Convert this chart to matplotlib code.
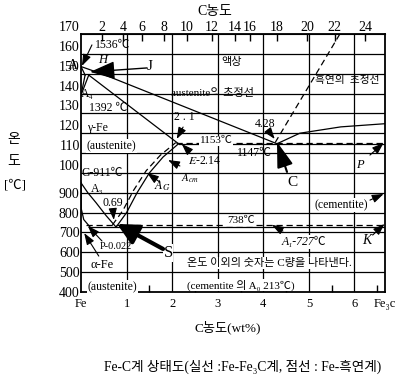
import matplotlib
matplotlib.use('Agg')
import matplotlib.pyplot as plt
from matplotlib import transforms

plt.rcParams['font.family'] = ['Liberation Serif', 'Noto Sans CJK KR', 'DejaVu Serif']
plt.rcParams['mathtext.fontset'] = 'stix'
plt.rcParams['axes.unicode_minus'] = False

# ---------------- data ----------------
y_ticks = [400, 500, 600, 700, 800, 900, 1000, 1100, 1200, 1300, 1400, 1500, 1600, 1700]
y_tick_labels = ['400', '500', '600', '700', '800', '900', '100', '110', '120',
                 '130', '140', '150', '160', '170']
x_ticks = [0, 1, 2, 3, 4, 5, 6, 6.67]
x_tick_labels = ['Fe', '1', '2', '3', '4', '5', '6', 'Fe₃c']
x_minor = [0.5, 1.5, 2.5, 3.5, 4.5, 5.5, 6.5]
top_tick_pos = [0.46, 0.92, 1.34, 1.82, 2.32, 2.87, 3.38, 3.71, 4.30, 4.96, 5.57, 6.23]
top_tick_labels = ['2', '4', '6', '8', '10', '12', '14', '16', '18', '20', '22', '24']

# phase boundaries (C wt%, temperature degC)
AB_c, AB_t = [0, 0.53], [1536, 1493]
BC_c, BC_t = [0.53, 4.3], [1493, 1147]
JE_c, JE_t = [0.17, 2.14], [1493, 1147]
AH_c, AH_t = [0, 0.09], [1536, 1493]
HN_c, HN_t = [0.09, 0], [1493, 1392]
JN_c, JN_t = [0.17, 0], [1493, 1392]
CD_c, CD_t = [4.3, 4.8, 5.7, 6.67], [1147, 1200, 1232, 1248]
ECF_c, ECF_t = [2.14, 6.67], [1147, 1147]
ES_c = [0.77, 1.0, 1.23, 1.5, 1.8, 2.14]
ES_t = [727, 800, 900, 1000, 1080, 1147]
ESg_c = [0.69, 0.92, 1.15, 1.43, 1.74, 2.08]
ESg_t = [738, 811, 911, 1011, 1089, 1153]
GS_c, GS_t = [0, 0.15, 0.33, 0.55, 0.77], [950, 900, 850, 785, 727]
GP_c, GP_t = [0, 0.005, 0.06, 0.2], [950, 820, 765, 727]
PSK_c, PSK_t = [0.2, 6.67], [727, 727]
PSKg_c, PSKg_t = [0.1, 6.67], [738, 738]
ECFg_c, ECFg_t = [2.08, 6.67], [1153, 1153]
CDg_c, CDg_t = [4.26, 5.68], [1153, 1700]

# ---------------- figure ----------------
fig = plt.figure(figsize=(4.04, 3.80), dpi=100)
ax = fig.add_axes([81 / 404, 1 - 292 / 380, 304 / 404, 258 / 380])
ax.set_xlim(0, 6.67)
ax.set_ylim(400, 1700)

for s in ax.spines.values():
    s.set_linewidth(1.3)

# grid
for xv in [1, 2, 3, 4, 5, 6]:
    ax.axvline(xv, color='black', lw=0.9, zorder=1)
for yv in y_ticks[1:-1]:
    ax.axhline(yv, color='black', lw=0.9, zorder=1)

lk = dict(color='black', lw=0.9, zorder=3)
dk = dict(color='black', lw=0.9, zorder=3, dashes=(5, 3))
for c, t in [(AB_c, AB_t), (BC_c, BC_t), (JE_c, JE_t), (AH_c, AH_t), (HN_c, HN_t),
             (JN_c, JN_t), (CD_c, CD_t), (ECF_c, ECF_t), (ES_c, ES_t), (GS_c, GS_t),
             (GP_c, GP_t), (PSK_c, PSK_t)]:
    ax.plot(c, t, **lk)
for c, t in [(ESg_c, ESg_t), (PSKg_c, PSKg_t), (ECFg_c, ECFg_t), (CDg_c, CDg_t)]:
    ax.plot(c, t, **dk)

# ticks
ax.set_yticks(y_ticks)
ax.set_yticklabels(y_tick_labels, fontsize=10)
ax.tick_params(axis='y', length=0, pad=1)
shift = transforms.ScaledTranslation(0, 8 / 100, fig.dpi_scale_trans)
for lab, v in zip(ax.get_yticklabels(), y_ticks):
    if v >= 1000:
        lab.set_transform(lab.get_transform() + shift)
ax.set_xticks(x_ticks)
ax.set_xticklabels(x_tick_labels, fontsize=9)
ax.tick_params(axis='x', length=0, pad=4)
ax.set_xticks(x_minor, minor=True)
ax.tick_params(axis='x', which='minor', direction='in', length=5, width=1)

top = ax.secondary_xaxis('top')
top.set_xticks(top_tick_pos)
top.set_xticklabels(top_tick_labels, fontsize=10)
top.tick_params(direction='in', length=5, width=1, pad=0)

fig.text(215 / 404, 1 - 11 / 380, 'C농도', ha='center', va='center', fontsize=10)
fig.text(228 / 404, 1 - 327 / 380, 'C농도(wt%)', ha='center', va='center', fontsize=9.5)
fig.text(243 / 404, 1 - 367 / 380, 'Fe-C계 상태도(실선 :Fe-Fe₃C계, 점선 : Fe-흑연계)',
         ha='center', va='center', fontsize=9.8)
fig.text(14 / 404, 1 - 140 / 380, '온', ha='center', va='center', fontsize=10)
fig.text(14 / 404, 1 - 162 / 380, '도', ha='center', va='center', fontsize=10)
fig.text(15 / 404, 1 - 185 / 380, '[℃]', ha='center', va='center', fontsize=9.5)

# ---------------- annotations ----------------
wb = dict(facecolor='white', edgecolor='none', pad=0.5)
def T(x, y, s, ha='left', fs=8, **kw):
    ax.text(x, y, s, ha=ha, va='center', fontsize=fs, zorder=5, clip_on=False, **kw)

T(0.31, 1645, '1536℃', fs=8.5)
T(0.48, 1569, 'H', ha='center', fs=9, style='italic')
T(1.51, 1534, 'J', ha='center', fs=11)
T(-0.18, 1539, 'A', ha='center', fs=10)
T(0.0, 1400, 'A₄', fs=8.5)
T(0.17, 1325, '1392 ℃', fs=8.5)
T(0.13, 1226, 'γ-Fe', fs=8.5)
T(0.13, 1136, '(austenite)', fs=8.5, bbox=wb)
T(1.97, 1403, 'austenite의 초정선', fs=8)
T(3.31, 1559, '액상', ha='center', fs=8)
T(5.13, 1468, '흑연의  초정선', fs=7.7)
T(2.26, 1282, '2 . 1', ha='center', fs=8.5)
T(4.04, 1246, '4.28', ha='center', fs=8.5)
T(2.6, 1161, '1153℃', fs=8, bbox=wb)
T(2.35, 1060, '$E$-2.14', fs=8.5)
T(3.42, 1100, '1147℃', fs=8.5)
T(4.65, 954, 'C', ha='center', fs=11)
T(1.78, 934, r'$A_{G}$', ha='center', fs=9)
T(2.39, 974, r'$A_{cm}$', ha='center', fs=8)
T(0.02, 1000, 'G-911℃', fs=8.5)
T(0.35, 918, 'A₃', ha='center', fs=8.5)
T(0.70, 848, '0.69', ha='center', fs=8.5)
T(0.42, 627, 'P-0.022', fs=7.5)
T(0.20, 536, 'α-Fe', fs=9)
T(1.91, 596, 'S', ha='center', fs=12, bbox=wb)
T(0.15, 425, '(austenite)', fs=8.5, bbox=wb)
T(2.32, 435, '(cementite 의 A₀ 213℃)', fs=8, bbox=wb)
T(2.32, 546, '온도 이외의 숫자는 C량을 나타낸다.', fs=8, bbox=wb)
T(6.12, 1040, 'P', ha='center', fs=9, style='italic')
T(5.13, 838, '(cementite)', fs=8.5, bbox=wb)
T(3.2, 758, '738℃', fs=8, bbox=wb)
T(4.41, 652, 'A₁-727℃', fs=8.5, bbox=wb, style='italic')
T(6.27, 662, 'K', ha='center', fs=10, style='italic')

small = dict(arrowstyle='-|>,head_length=0.7,head_width=0.25', color='black', lw=0.8,
             shrinkA=0, shrinkB=0)
def arr(tail, head, props=small):
    ax.annotate('', xy=head, xytext=tail, arrowprops=props, zorder=6,
                annotation_clip=False)

arr((0.24, 1645), (0.02, 1539))
arr((2.24, 1231), (2.1, 1171))
arr((4.1, 1216), (4.25, 1171))
arr((2.39, 1105), (2.21, 1146))
arr((2.17, 1035), (1.91, 1065))
arr((1.73, 954), (1.45, 1000))
arr((0.70, 813), (0.72, 763))
arr((0.46, 657), (0.15, 733))
arr((0.39, 581), (0.07, 697))
arr((4.43, 707), (4.19, 738))
arr((6.4, 687), (6.66, 743))
arr((6.34, 863), (6.64, 894))
arr((6.34, 1090), (6.64, 1151))

big_thin = dict(arrowstyle='-|>,head_length=1.1,head_width=0.4', color='black', lw=1.0,
                mutation_scale=14, shrinkA=0, shrinkB=0)
big_thick = dict(arrowstyle='-|>,head_length=0.9,head_width=0.45', color='black', lw=3.0,
                 mutation_scale=14, shrinkA=0, shrinkB=0)
big_mid = dict(arrowstyle='-|>,head_length=1.1,head_width=0.35', color='black', lw=1.5,
               mutation_scale=14, shrinkA=0, shrinkB=0)
arr((1.45, 1529), (0.2, 1509), big_thin)
arr((1.8, 617), (0.79, 743), big_thick)
arr((4.52, 1005), (4.3, 1156), big_mid)

fig.savefig('out.png', dpi=100)
